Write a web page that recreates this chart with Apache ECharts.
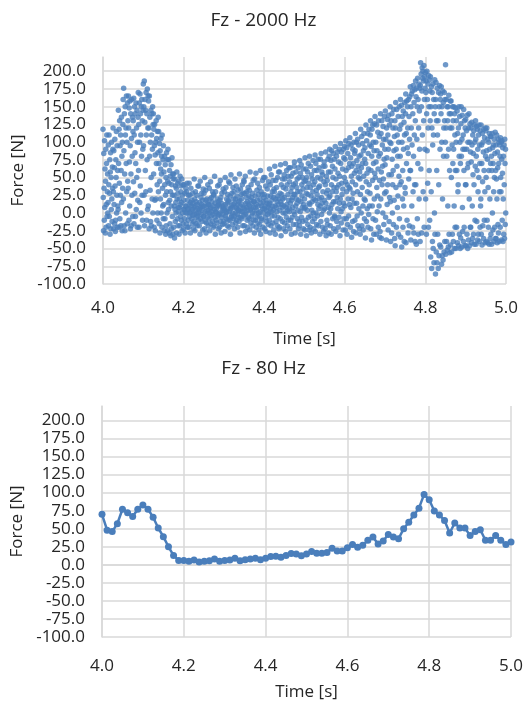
<!DOCTYPE html>
<html>
<head>
<meta charset="utf-8">
<title>Fz</title>
<script src="https://cdn.jsdelivr.net/npm/echarts@6/dist/echarts.min.js"></script>
<style>
html,body{margin:0;padding:0;background:#fff;}
#main{width:527px;height:704px;}
</style>
</head>
<body>
<div id="main"></div>
<script>
//标题
var titles = ["Fz - 2000 Hz", "Fz - 80 Hz"];
//坐标轴刻度
var xTicks = [4.0, 4.2, 4.4, 4.6, 4.8, 5.0];
var yTicks = [-100, -75, -50, -25, 0, 25, 50, 75, 100, 125, 150, 175, 200];
var yTop = 220; //绘图区上沿, 无刻度

//80 Hz 滤波后 (4.0 ~ 5.0 s, 81点)
var force80 = [
	70, 48, 46, 57, 77, 72, 67, 77, 83, 77,
	66, 51, 39, 25, 13, 6, 6, 5, 6.5, 4,
	5, 5.5, 8, 5, 6, 6.5, 9, 5.5, 7, 8,
	9, 7, 9, 11.5, 12, 10.5, 13, 15.5, 15, 12.5,
	15, 18.5, 16, 16, 17, 23, 19, 19, 23.5, 28,
	24.5, 27, 34, 38.5, 29, 33, 42, 38.5, 36, 50,
	59, 69, 78.5, 97.5, 90, 74.5, 69, 61.5, 44, 58,
	51, 51, 40.5, 46, 48.5, 34, 34, 40.5, 34, 28,
	31.5
];

//2000 Hz 原始 (从图上读取, 每 0.0125 s 一行, 20点)
var force2000 = [
	118, 22, -25, 84, 35, -10, 102, 8, 62, -28, 45, 90, -20, 12, 70, 110, -5, 30, 55, 0,
	15, 96, -18, 40, 110, -5, 28, 75, -30, 58, 85, -22, 50, 5, 100, 20, -12, 65, 35, 90,
	120, 30, -22, 88, 12, 64, -15, 104, 38, -26, -10, 75, 50, 115, 0, 25, 95, -20, 60, 10,
	5, 145, 70, -20, 118, 42, 130, -8, 95, 25, 110, -18, 60, 135, 15, 80, -25, 100, 35, 125,
	160, 20, 176, 88, -18, 140, 55, -25, 150, 110, 0, 120, 70, 165, 30, 100, -15, 155, 45, 130,
	35, 165, 120, -10, 148, 72, 10, 158, 95, -22, 140, 55, -18, 105, 160, 25, 80, 135, -5, 115,
	130, 44, 162, -15, 110, 150, 28, 85, 140, -5, 70, 155, 5, 120, 50, 145, -20, 100, 18, 135,
	170, 60, 125, -20, 155, 100, 15, 168, 38, 140, 110, 0, 150, 80, 160, 25, 130, -10, 90, 145,
	182, 95, 150, 25, 186, -18, 128, 160, 60, 145, 30, 170, 110, -10, 140, 75, 175, 5, 120, 165,
	10, 158, 120, -22, 165, 80, 135, 32, 100, -12, 145, 50, -18, 110, 140, 20, 90, 150, 0, 125,
	140, 55, 118, -20, 95, 125, 18, 82, -25, 100, 20, 130, 70, 105, -10, 40, 115, 0, 85, 135,
	30, 115, 70, -15, 98, 45, -28, 88, 20, 62, 105, 0, 55, 80, -20, 110, 35, 10, 75, -8,
	95, 12, 58, -25, 80, 40, -8, 68, 25, -30, 50, -18, 85, 30, 0, 75, -25, 45, 90, 15,
	5, 75, 42, -28, 60, 18, -15, 52, 30, -32, 68, 10, -22, 40, 78, -5, 25, 55, -30, 48,
	55, -20, 25, 10, -35, 48, 5, -12, 38, 15, 0, 35, -28, 58, 20, -8, 42, 28, -18, 8,
	2, 45, -30, 20, 8, -18, 52, 12, -5, 30, 38, -10, 15, 48, -25, 25, 0, 40, -15, 5,
	-22, 18, 40, 5, -8, 28, -28, 10, 0, 35, 10, -15, 30, 0, 42, -20, 18, 5, -10, 25,
	6, -20, 42, 12, -5, 25, 0, -28, 15, 35, 2, 10, -8, 18, -15, 5, 28, -3, 14, -22,
	-12, 8, 48, -2, 20, -25, 10, 30, 4, -15, 16, -6, 0, 25, -18, 12, -4, 38, 6, -10,
	38, 0, -18, 15, 5, -30, 45, 8, -8, 22, -2, 12, 28, -12, 4, 18, -24, 10, 34, -5,
	-5, 28, 10, -22, 50, 2, -12, 18, 32, -28, 8, -14, 20, 0, 14, -6, 40, 4, -18, 12,
	12, -8, 35, 0, -25, 20, 6, 44, -15, 8, -4, 22, 2, 16, -12, 30, -2, 10, -20, 26,
	25, -18, 5, 52, -6, 14, -30, 30, 2, -10, 6, 0, -14, 20, 10, 38, -4, 16, -22, 12,
	-2, 40, 10, -20, 18, 0, 46, -12, 22, -28, 14, -6, 28, 4, -16, 10, -2, 34, 6, -12,
	8, -15, 30, 4, -26, 50, 12, -4, 36, 0, -8, 20, 2, 14, -18, 26, 6, -10, 18, 44,
	-20, 16, 2, 42, -10, 24, -30, 6, 54, -6, 10, -4, 28, 8, -16, 0, 36, 12, -8, 20,
	30, -4, -22, 14, 48, 0, 20, -14, 8, 38, -10, 6, 24, -2, 12, -20, 32, 4, 16, -6,
	-12, 4, 55, 18, -28, 10, 34, -6, 2, 26, 20, -8, 12, 40, 2, -18, 28, 8, -4, 46,
	44, -18, 6, 28, -2, 52, -26, 14, 0, 22, 8, 30, -10, 16, -20, 4, 36, 12, -6, 24,
	-8, 32, 10, -24, 58, 4, 18, -14, 40, 6, 22, -4, 14, 0, 28, -18, 46, 8, -10, 16,
	16, -28, 48, 0, 24, -10, 8, 56, -20, 12, 4, 32, -6, 18, 42, -14, 10, 26, 0, -24,
	-4, 36, -16, 20, 2, 60, -30, 14, 30, -8, 10, -10, 26, 46, 6, -20, 16, 0, 50, 22,
	26, 6, -22, 50, 10, -6, 38, -26, 18, 4, -12, 14, 34, -2, 24, 8, -16, 44, 0, 12,
	-10, 62, 14, -28, 40, 6, 24, -18, 54, 2, 18, -4, 30, 10, -14, 46, 4, 22, -24, 34,
	30, -4, 66, 10, -30, 20, 46, -12, 8, 36, 2, 16, -18, 50, 24, -6, 12, 58, -22, 20,
	-20, 58, 4, 28, -8, 68, 16, -32, 40, 12, 26, 8, -12, 48, 20, 0, 36, -22, 10, 54,
	22, -14, 48, 0, 70, -26, 34, 8, -6, 60, 12, 40, -18, 4, 26, 52, -10, 18, 64, 2,
	6, 44, -22, 64, 14, -10, 30, 52, -30, 18, 36, -6, 22, 8, 56, -16, 40, 2, 26, 66,
	72, -2, 26, -28, 42, 10, 58, -16, 20, 36, 14, 48, -8, 30, 4, 64, -22, 18, 50, -12,
	-18, 74, 30, 2, 56, -30, 16, 68, -6, 40, 24, 8, 50, -12, 34, 62, -22, 12, 44, 6,
	20, -24, 78, 8, 46, -10, 62, 28, -32, 50, 36, 4, 58, -16, 26, 70, -6, 42, 14, -24,
	80, 12, -20, 36, 66, -4, 24, -28, 54, 4, 16, 48, -12, 30, 74, 0, 40, -22, 20, 60,
	-8, 44, 82, -26, 18, 70, 0, 32, -16, 60, 26, -4, 50, 12, 76, -18, 36, 6, 64, 20,
	38, -30, 10, 76, 48, -12, 84, 22, -2, 58, 14, 54, -20, 30, 66, 4, -26, 44, 72, 18,
	6, 66, -22, 40, 86, 14, -32, 52, 28, -10, 46, -16, 32, 76, 8, 58, -28, 22, 80, 0,
	90, 24, -18, 58, 6, 74, -30, 40, 88, 12, 30, 66, -8, 50, 84, 16, -22, 36, 76, -4,
	-6, 62, 94, 16, -26, 48, 30, 80, -12, 36, 22, 86, 6, 56, -20, 72, 40, -6, 90, 14,
	52, -32, 20, 98, 70, 2, -14, 86, 42, 26, 6, 62, 34, -24, 90, 14, 78, -8, 50, 94,
	10, 76, -24, 44, 102, 60, -8, 30, 92, -30, 40, -16, 84, 20, 64, -4, 98, 36, 12, 70,
	106, 34, -20, 78, 8, 96, 52, -34, 66, 20, 44, -12, 90, 28, 70, -26, 100, 14, 56, 84,
	-10, 88, 112, 40, -28, 60, 100, 14, 74, -4, 30, 104, -18, 66, 50, 96, 6, 80, -22, 58,
	48, -30, 26, 118, 82, 0, 64, 108, -18, 36, 70, 98, 10, -24, 88, 52, 112, 20, -8, 76,
	92, 18, -35, 70, 124, 44, -12, 102, 56, 6, 30, 112, -20, 84, 62, -2, 118, 40, 10, 96,
	28, 110, 130, -22, 60, 94, -38, 80, 118, 10, 46, 124, -8, 100, 70, -30, 88, 20, 126, 56,
	136, 50, -10, 100, 72, -30, 124, 36, 88, 2, 24, 114, 62, -20, 130, 80, 10, 108, 46, -34,
	-26, 84, 140, 20, 112, 58, -36, 130, 40, 96, 66, 0, 122, 48, 104, -16, 76, 136, 28, 90,
	68, 144, -6, 104, 30, -38, 120, 78, 12, 132, 40, 110, -24, 90, 138, 54, -12, 124, 22, 100,
	150, 16, -40, 98, 130, 54, -28, 140, 76, 0, 40, 120, 60, -16, 146, 88, 18, 108, -36, 130,
	-46, 120, 156, 36, 90, -20, 146, 66, 110, 8, 80, 24, 136, -30, 100, 52, 150, -8, 118, 40,
	80, 160, -34, 124, 44, 152, -48, 100, 136, 20, 60, -20, 144, 90, 10, 128, -40, 110, 156, 36,
	28, 140, 168, -42, 112, 70, 158, -10, 92, 150, 120, -28, 84, 160, 48, 136, -18, 104, 164, 60,
	178, 60, -38, 150, 120, 168, 10, 96, 172, -20, 140, 30, 180, 80, -28, 156, 110, 40, 174, -40,
	130, 186, 40, 164, -44, 176, 104, 150, -8, 190, 70, 160, -30, 120, 182, 20, 144, 90, 176, -40,
	180, 212, 62, 196, 150, -28, 172, 205, 110, 190, 200, 30, 186, 130, 208, -20, 160, 192, 90, 176,
	198, 20, 170, 186, -30, 140, 200, 88, 160, 42, 182, 120, -20, 194, 150, 60, 188, -10, 172, 130,
	192, -62, 150, 30, 178, -78, 120, 170, -40, 96, 182, -50, 110, 160, -70, 140, 0, 188, -30, 150,
	-86, 160, 184, -55, 130, 60, -70, 176, 110, -30, 130, -78, 170, 40, -60, 150, 180, -45, 90, 160,
	168, -48, 140, 178, -72, 100, 150, -60, 20, 172, -66, 156, 80, 120, -55, 170, 130, -40, 160, 100,
	209, -58, 120, 160, -40, 80, 150, -52, 130, 10, 150, -48, 90, 166, -30, 140, 60, -56, 120, 158,
	-45, 140, 158, 50, -55, 120, 96, -30, 150, 70, 130, -40, 90, 150, 10, -50, 140, 110, -20, 60,
	148, -50, 100, 130, -20, 60, 144, -42, 112, 30, 40, 120, -46, 150, 80, -30, 136, 100, -50, 70,
	-35, 126, 150, 80, -48, 104, 138, 8, -26, 90, 110, -40, 146, 60, -20, 130, 90, -46, 120, 40,
	132, 40, -46, 116, 90, -30, 138, 64, -50, 100, 70, -38, 120, 140, 20, -46, 100, 126, -20, 86,
	-20, 120, 72, -42, 128, 96, 10, -36, 110, 54, 84, -30, 116, 40, -44, 124, 100, -10, 66, 130,
	104, -44, 80, 122, -12, 60, 118, -38, 90, 30, -30, 110, 50, 124, -40, 96, 70, -20, 116, 10,
	20, 124, -30, 96, 70, -45, 112, 44, -18, 100, 86, -36, 118, 60, -10, 106, 30, -42, 120, 80,
	116, 50, -40, 88, 120, -10, 76, 104, -42, 36, -20, 100, 60, -44, 112, 90, 20, -36, 108, 70,
	-30, 108, 80, -44, 60, 112, 0, 92, -24, 70, 96, 30, -40, 104, 50, -20, 84, 114, -36, 60,
	96, -36, 48, 110, 20, -42, 86, 64, -16, 104, -28, 70, 100, -40, 30, 96, 80, -20, 106, 50,
	30, 100, -38, 76, 102, -10, 56, 92, -40, 20, 80, -30, 96, 40, -36, 104, 70, -16, 90, 0
];

var blue = "#4a7ebb";
var textColor = "#262626";
var gridColor = "#d9d9d9";
var fontName = "'Open Sans', sans-serif";

//按采样间隔生成 [时间, 力] 点
function toPoints(values, tStart, tEnd, withEnd) {
	var n = withEnd ? values.length - 1 : values.length;
	var dt = (tEnd - tStart) / n;
	var pts = [];
	for (var i = 0; i < values.length; i++) {
		pts.push([tStart + i * dt, values[i]]);
	}
	return pts;
}

function xAxisOf(idx) {
	return {
		type: 'value',
		gridIndex: idx,
		min: xTicks[0],
		max: xTicks[xTicks.length - 1],
		interval: xTicks[1] - xTicks[0],
		name: 'Time [s]',
		nameLocation: 'middle',
		nameGap: 47,
		nameTextStyle: {color: textColor, fontSize: 17, fontFamily: fontName},
		axisLine: {show: true, lineStyle: {color: gridColor, width: 1.5}},
		axisTick: {show: false},
		axisLabel: {
			color: textColor, fontSize: 17, fontFamily: fontName, margin: idx == 0 ? 16 : 21,
			formatter: function (v) { return v.toFixed(1); }
		},
		splitLine: {show: true, lineStyle: {color: gridColor, width: 1.5}}
	};
}

function yAxisOf(idx) {
	return {
		type: 'value',
		gridIndex: idx,
		min: yTicks[0],
		max: yTop,
		interval: yTicks[1] - yTicks[0],
		name: 'Force [N]',
		nameLocation: 'middle',
		nameGap: 74,
		nameTextStyle: {color: textColor, fontSize: 17, fontFamily: fontName},
		axisLine: {show: true, lineStyle: {color: gridColor, width: 1.5}},
		axisTick: {show: false},
		axisLabel: {
			color: textColor, fontSize: 17, fontFamily: fontName, margin: 17,
			formatter: function (v) {
				if (v > yTicks[yTicks.length - 1]) return '';
				return v.toFixed(1);
			}
		},
		splitLine: {show: true, showMaxLine: false, lineStyle: {color: gridColor, width: 1.5}}
	};
}

var chart = echarts.init(document.getElementById('main'), null, {renderer: 'canvas'});
var option = {
	animation: false,
	backgroundColor: '#fff',
	title: [
		{text: titles[0], left: 'center', top: 11, padding: 0,
			textStyle: {color: textColor, fontSize: 19, fontWeight: 'normal', fontFamily: fontName}},
		{text: titles[1], left: 'center', top: 359, padding: 0,
			textStyle: {color: textColor, fontSize: 19, fontWeight: 'normal', fontFamily: fontName}}
	],
	grid: [
		{left: 103, top: 57, width: 403, height: 227},
		{left: 102, top: 406, width: 409, height: 231}
	],
	xAxis: [xAxisOf(0), xAxisOf(1)],
	yAxis: [yAxisOf(0), yAxisOf(1)],
	series: [
		{
			type: 'scatter',
			xAxisIndex: 0,
			yAxisIndex: 0,
			symbolSize: 5.5,
			itemStyle: {color: blue},
			data: toPoints(force2000, xTicks[0], xTicks[xTicks.length - 1], false)
		},
		{
			type: 'line',
			xAxisIndex: 1,
			yAxisIndex: 1,
			symbol: 'circle',
			symbolSize: 7,
			showAllSymbol: true,
			itemStyle: {color: blue},
			lineStyle: {color: blue, width: 2.5},
			data: toPoints(force80, xTicks[0], xTicks[xTicks.length - 1], true)
		}
	]
};
chart.setOption(option);
</script>
</body>
</html>
